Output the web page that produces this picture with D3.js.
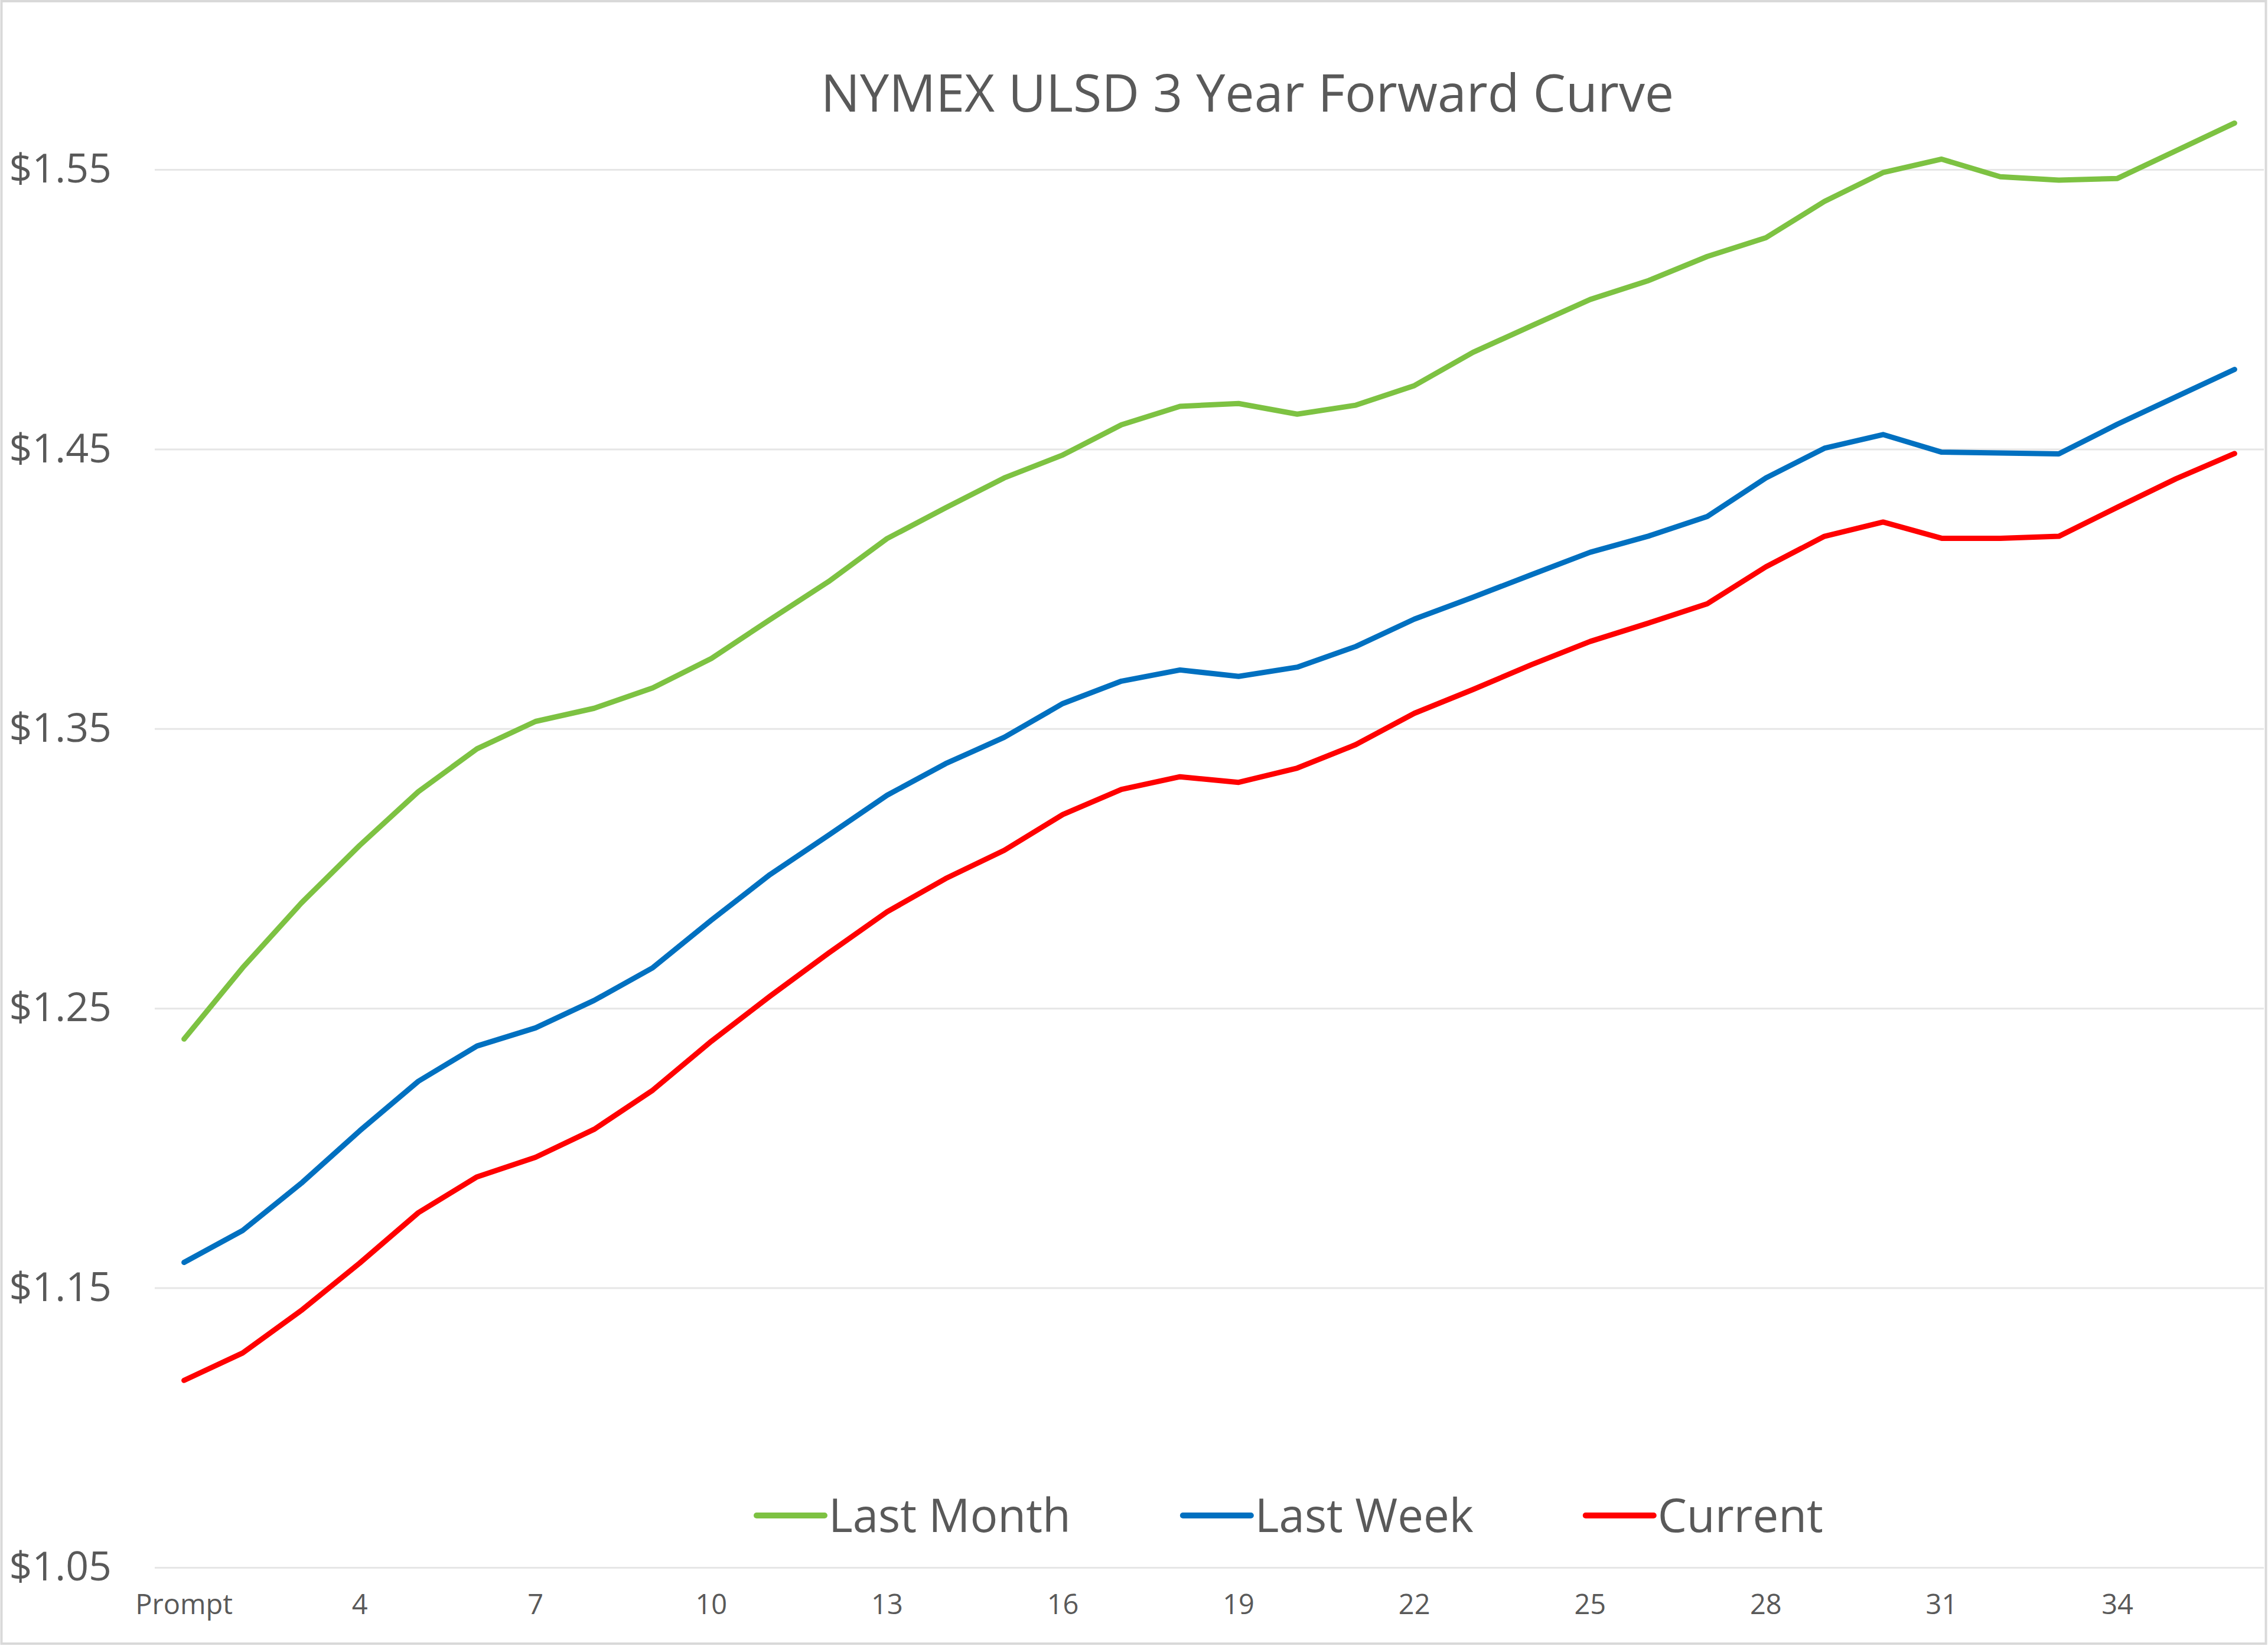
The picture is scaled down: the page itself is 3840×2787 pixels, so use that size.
<!DOCTYPE html>
<html>
<head>
<meta charset="utf-8">
<script src="https://cdn.jsdelivr.net/npm/d3@7"></script>
<style>
  html, body { margin: 0; padding: 0; background: #ffffff; }
  svg { display: block; }
  text { font-family: "Open Sans", "Noto Sans", sans-serif; fill: #595959; }
</style>
</head>
<body>
<svg id="chart" width="3840" height="2787"></svg>
<script>
// ---- data ----
const title = "NYMEX ULSD 3 Year Forward Curve";
const months = ["Prompt"].concat(d3.range(2, 37).map(String));
const tickLabels = ["Prompt", "4", "7", "10", "13", "16", "19", "22", "25", "28", "31", "34"];
const yTicks = [1.05, 1.15, 1.25, 1.35, 1.45, 1.55];
const seriesNames = ["Last Month", "Last Week", "Current"];
const seriesColors = ["#7DC242", "#0070C0", "#FF0000"];
const lastMonth = [1.239, 1.2645, 1.2876, 1.3083, 1.3275, 1.3428, 1.3526, 1.3573, 1.3646, 1.3751, 1.389, 1.4026,
  1.418, 1.429, 1.4397, 1.4479, 1.4587, 1.4653, 1.4663, 1.4625, 1.4657, 1.4727, 1.4846, 1.4941,
  1.5035, 1.5103, 1.5189, 1.5256, 1.5386, 1.5489, 1.5537, 1.5474, 1.5462, 1.5468, 1.5567, 1.5666];
const lastWeek = [1.1591, 1.1705, 1.1874, 1.2062, 1.2239, 1.2365, 1.243, 1.2528, 1.2645, 1.2815, 1.2978, 1.3119,
  1.3262, 1.3375, 1.3469, 1.359, 1.367, 1.371, 1.3687, 1.372, 1.3794, 1.3892, 1.397, 1.4051,
  1.4131, 1.4189, 1.4259, 1.4397, 1.4503, 1.4552, 1.4489, 1.4486, 1.4483, 1.4589, 1.4687, 1.4785];
const current = [1.1169, 1.1267, 1.1419, 1.1589, 1.1769, 1.1897, 1.1967, 1.2067, 1.2207, 1.2382, 1.2543, 1.2697,
  1.2845, 1.2964, 1.3065, 1.3193, 1.3283, 1.3328, 1.3308, 1.3359, 1.3443, 1.3555, 1.364, 1.3729,
  1.3812, 1.3878, 1.3947, 1.4079, 1.4188, 1.4239, 1.4181, 1.4181, 1.4188, 1.4292, 1.4394, 1.4484];
const seriesValues = [lastMonth, lastWeek, current];

// ---- layout ----
const W = 3840, H = 2787;
const plot = { left: 262, right: 3833, top: 287, bottom: 2654 };

const svg = d3.select("#chart");
svg.append("rect").attr("x", 0).attr("y", 0).attr("width", W).attr("height", H).attr("fill", "#ffffff");
svg.append("rect").attr("x", 2.5).attr("y", 2).attr("width", W - 6).attr("height", H - 6)
  .attr("fill", "none").attr("stroke", "#d9d9d9").attr("stroke-width", 4);

const x = d3.scaleBand().domain(months).range([plot.left, plot.right]).padding(0);
const xc = d => x(d) + x.bandwidth() / 2;
const y = d3.scaleLinear().domain([1.05, 1.55]).range([plot.bottom, plot.top]);

// y axis with gridlines
const yAxis = svg.append("g").attr("transform", `translate(${plot.left},0)`)
  .call(d3.axisLeft(y).tickValues(yTicks).tickFormat(d3.format("$.2f"))
    .tickSize(-(plot.right - plot.left)).tickPadding(73));
yAxis.select(".domain").remove();
yAxis.selectAll(".tick line").attr("stroke", "#e6e6e6").attr("stroke-width", 3);
yAxis.selectAll(".tick text").attr("font-size", 68).attr("fill", "#595959")
  .style("font-family", "'Open Sans', sans-serif");

// x axis
const xAxis = svg.append("g").attr("transform", `translate(0,${plot.bottom})`)
  .call(d3.axisBottom(x).tickValues(tickLabels).tickSize(0).tickPadding(46));
xAxis.select(".domain").remove();
xAxis.selectAll(".tick text").attr("font-size", 47).attr("fill", "#595959")
  .style("font-family", "'Open Sans', sans-serif");

// lines
const line = d3.line().x((d, i) => xc(months[i])).y(d => y(d));
seriesValues.forEach((vals, k) => {
  svg.append("path").datum(vals)
    .attr("d", line)
    .attr("fill", "none")
    .attr("stroke", seriesColors[k])
    .attr("stroke-width", 9)
    .attr("stroke-linejoin", "round")
    .attr("stroke-linecap", "round");
});

// title
svg.append("text").attr("x", 2112).attr("y", 189).attr("text-anchor", "middle")
  .attr("font-size", 88).attr("fill", "#595959").text(title);

// legend
const legend = svg.append("g");
let lx = 1281;
const ly = 2566;
seriesNames.forEach((name, k) => {
  legend.append("line").attr("x1", lx).attr("x2", lx + 115).attr("y1", ly).attr("y2", ly)
    .attr("stroke", seriesColors[k]).attr("stroke-width", 10).attr("stroke-linecap", "round");
  const t = legend.append("text").attr("x", lx + 122).attr("y", ly + 28)
    .attr("font-size", 78).attr("fill", "#595959").text(name);
  lx = lx + 122 + t.node().getComputedTextLength() + 190;
});
</script>
</body>
</html>
